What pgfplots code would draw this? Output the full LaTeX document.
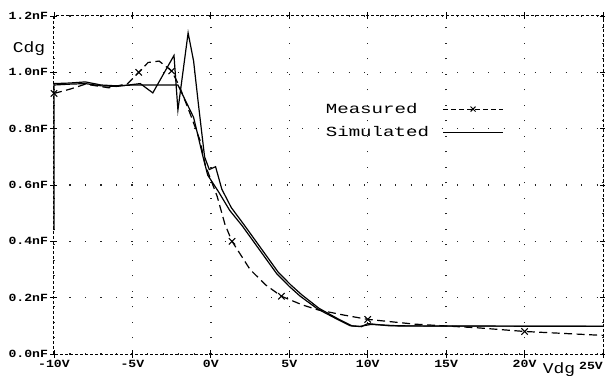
\documentclass[border=0pt]{standalone}
\usepackage{pgfplots}
\pgfplotsset{compat=1.18}
\usepackage{fontspec}
\newfontfamily\tickfont[FakeStretch=1.2]{Liberation Mono}
\newfontfamily\legfont[FakeStretch=1.37]{Liberation Mono}
\newfontfamily\labfont[FakeStretch=1.2]{Liberation Mono}
\begin{document}
\begin{tikzpicture}
\begin{axis}[
  scale only axis,
  width=549bp, height=338bp,
  xmin=-10, xmax=25, ymin=0, ymax=1.2,
  xtick={-10,-5,0,5,10,15,20,25},
  xticklabels={-10V,-5V,0V,5V,10V,15V,20V,},
  ytick={0,0.2,0.4,0.6,0.8,1.0,1.2},
  yticklabels={0.0nF,0.2nF,0.4nF,0.6nF,0.8nF,1.0nF,1.2nF},
  ticklabel style={font=\tickfont\bfseries\fontsize{11}{11}\selectfont},
  xticklabel style={yshift=1bp},
  yticklabel style={xshift=1bp},
  tick align=center,
  major tick length=7bp,
  tick style={black, solid, line width=0.9bp},
  axis line style={black, line width=1bp, dash pattern=on 3bp off 2bp},
  grid=major,
  major grid style={black!85, line width=1.4bp, dash pattern=on 1.4bp off 14.1bp},
  clip=false,
  legend plot pos=right,
  legend cell align=left,
  legend style={draw=none, fill=none, at={(axis cs:7.0,0.905)}, anchor=north west,
    font=\legfont\fontsize{14}{14}\selectfont, row sep=8bp},
]
% Measured (dashed)
\addplot[black, line width=1.2bp, dash pattern=on 8bp off 4.5bp,
  legend image code/.code={\path[draw=none] (0bp,0bp) -- (12bp,0bp);
     \draw[black, line width=1bp, dash pattern=on 5bp off 3bp] (12bp,0bp) -- (72bp,0bp);
     \draw[black, line width=1bp, solid] plot[mark=x, mark size=3.5bp] coordinates {(42bp,0bp)};}]
coordinates {
(-10,0.925) (-9,0.94) (-8,0.958) (-6.5,0.945) (-5.3,0.96) (-4.6,1.0) (-4.0,1.035)
(-3.3,1.04) (-2.5,1.005) (-2.0,0.95) (-1.3,0.85) (-0.7,0.76) (-0.35,0.67)
(0.4,0.56) (0.9,0.46) (1.35,0.40) (2.5,0.30) (3.5,0.245) (4.5,0.205) (5.8,0.175)
(6.8,0.157) (8.5,0.138) (10,0.123) (13,0.106) (17,0.093) (20,0.08) (25,0.066)
};
\addlegendentry{Measured}
% Simulated (solid, smooth branch)
\addplot[black, line width=1.2bp, solid,
  legend image code/.code={\path[draw=none] (0bp,0bp) -- (12bp,0bp);
     \draw[black, line width=1.2bp] (12bp,0bp) -- (72bp,0bp);}]
coordinates {
(-10,0.44) (-10,0.96) (-9,0.962) (-8,0.966) (-7,0.955) (-6,0.952) (-5,0.955)
(-4,0.955) (-3,0.955) (-2.1,0.955) (-1.1,0.84) (-0.5,0.70) (-0.2,0.635)
(0.5,0.575) (1.2,0.51) (2.0,0.455) (3.1,0.37) (4.2,0.285) (5.0,0.24) (5.7,0.205)
(6.8,0.16) (8.0,0.125) (8.9,0.10) (9.6,0.097) (10,0.108) (11.4,0.10) (13.5,0.099) (25,0.099)
};
\addlegendentry{Simulated}
% Simulated (solid, jagged branch)
\addplot[black, line width=1.2bp, solid, forget plot]
coordinates {
(-10,0.955) (-9,0.958) (-8,0.96) (-7,0.952) (-6,0.95) (-4.5,0.96) (-3.7,0.927)
(-2.35,1.06) (-2.1,0.866) (-1.45,1.14) (-1.1,1.04) (-0.8,0.89) (-0.4,0.70)
(-0.1,0.655) (0.3,0.665) (0.7,0.585) (1.3,0.52) (2.1,0.46) (3.2,0.375) (4.3,0.29)
(5.1,0.245) (5.8,0.21) (6.9,0.162) (8.1,0.125) (9.0,0.10) (9.5,0.098) (10.2,0.105)
(12,0.1) (25,0.098)
};
% Measured markers
\addplot[black, only marks, mark=x, mark size=4.5bp, line width=1.1bp, forget plot]
coordinates {(-10,0.925) (-4.6,1.0) (-2.5,1.005) (1.35,0.40) (4.5,0.205) (10,0.123) (20,0.08)};
\node[anchor=north east, font=\tickfont\bfseries\fontsize{11}{11}\selectfont, inner sep=0pt] at (axis cs:25,-0.028) {25V};
\node[font=\labfont\fontsize{15}{15}\selectfont] at (axis cs:-11.6,1.085) {Cdg};
\node[font=\labfont\fontsize{15}{15}\selectfont, inner sep=0pt, anchor=base] at (axis cs:22.2,-0.068) {Vdg};
\coordinate (bl) at (rel axis cs:0,0);
\coordinate (tr) at (rel axis cs:1,1);
\end{axis}
\pgfresetboundingbox
\path (bl) ++(-54bp,-22bp) coordinate (BL);
\path (tr) ++(2bp,16bp) coordinate (TR);
\path[use as bounding box] (BL) rectangle (TR);
\end{tikzpicture}
\end{document}
